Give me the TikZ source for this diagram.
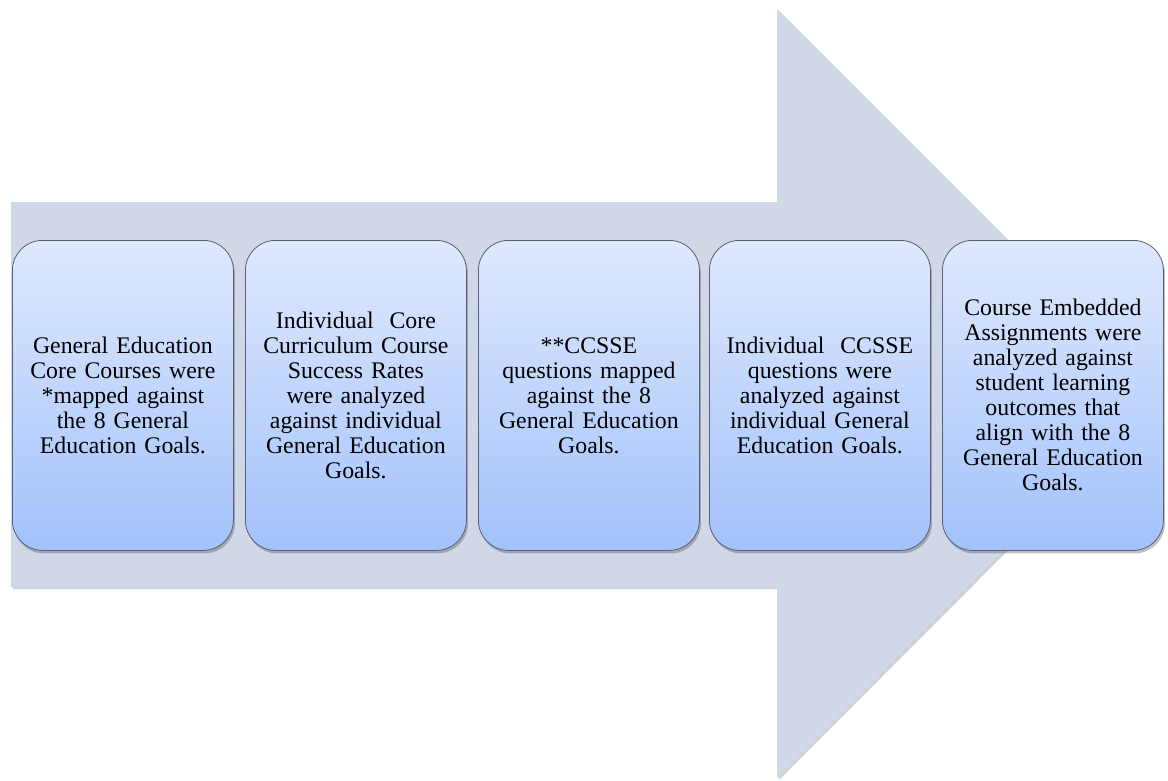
\documentclass[tikz,border=0pt]{standalone}
\usepackage{fontspec}
\setmainfont{Liberation Serif}
\usetikzlibrary{shadows}
\definecolor{arrowfill}{HTML}{D0D8E7}
\definecolor{boxtop}{HTML}{DFE9FE}
\definecolor{boxbot}{HTML}{A2C2FB}
\definecolor{boxline}{HTML}{5A6070}
\tikzset{
  stepbox/.style={draw=boxline, line width=0.8pt, rounded corners=30pt,
    top color=boxtop, bottom color=boxbot, minimum width=221pt, minimum height=310pt,
    inner sep=0pt, align=center, text width=218pt,
    font=\fontsize{23.8}{25}\selectfont, anchor=north west,
    drop shadow={shadow xshift=1.5pt, shadow yshift=-3pt, opacity=0.35, fill=black!70}},
}
\begin{document}
\begin{tikzpicture}[x=1pt,y=-1pt]
\useasboundingbox (0,0) rectangle (1168,780);
\fill[black, opacity=0.18] (13,204) -- (779,204) -- (779,11) -- (1163,395) -- (779,780) -- (779,589) -- (13,589) -- cycle;
\fill[arrowfill] (11,202) -- (777,202) -- (777,9) -- (1161,393) -- (777,778) -- (777,587) -- (11,587) -- cycle;
\node[stepbox] (b1) at (12,240) {General Education\\Core Courses were\\{*}mapped against\\the 8 General\\Education Goals.};
\node[stepbox] (b2) at (245,240) {Individual\ \ Core\\Curriculum Course\\Success Rates\\were analyzed\\against individual\\General Education\\Goals.};
\node[stepbox] (b3) at (478,240) {**CCSSE\\questions mapped\\against the 8\\General Education\\Goals.};
\node[stepbox] (b4) at (709,240) {Individual\ \ CCSSE\\questions were\\analyzed against\\individual General\\Education Goals.};
\node[stepbox] (b5) at (942,240) {Course Embedded\\Assignments were\\analyzed against\\student learning\\outcomes that\\align with the 8\\General Education\\Goals.};
\end{tikzpicture}
\end{document}
